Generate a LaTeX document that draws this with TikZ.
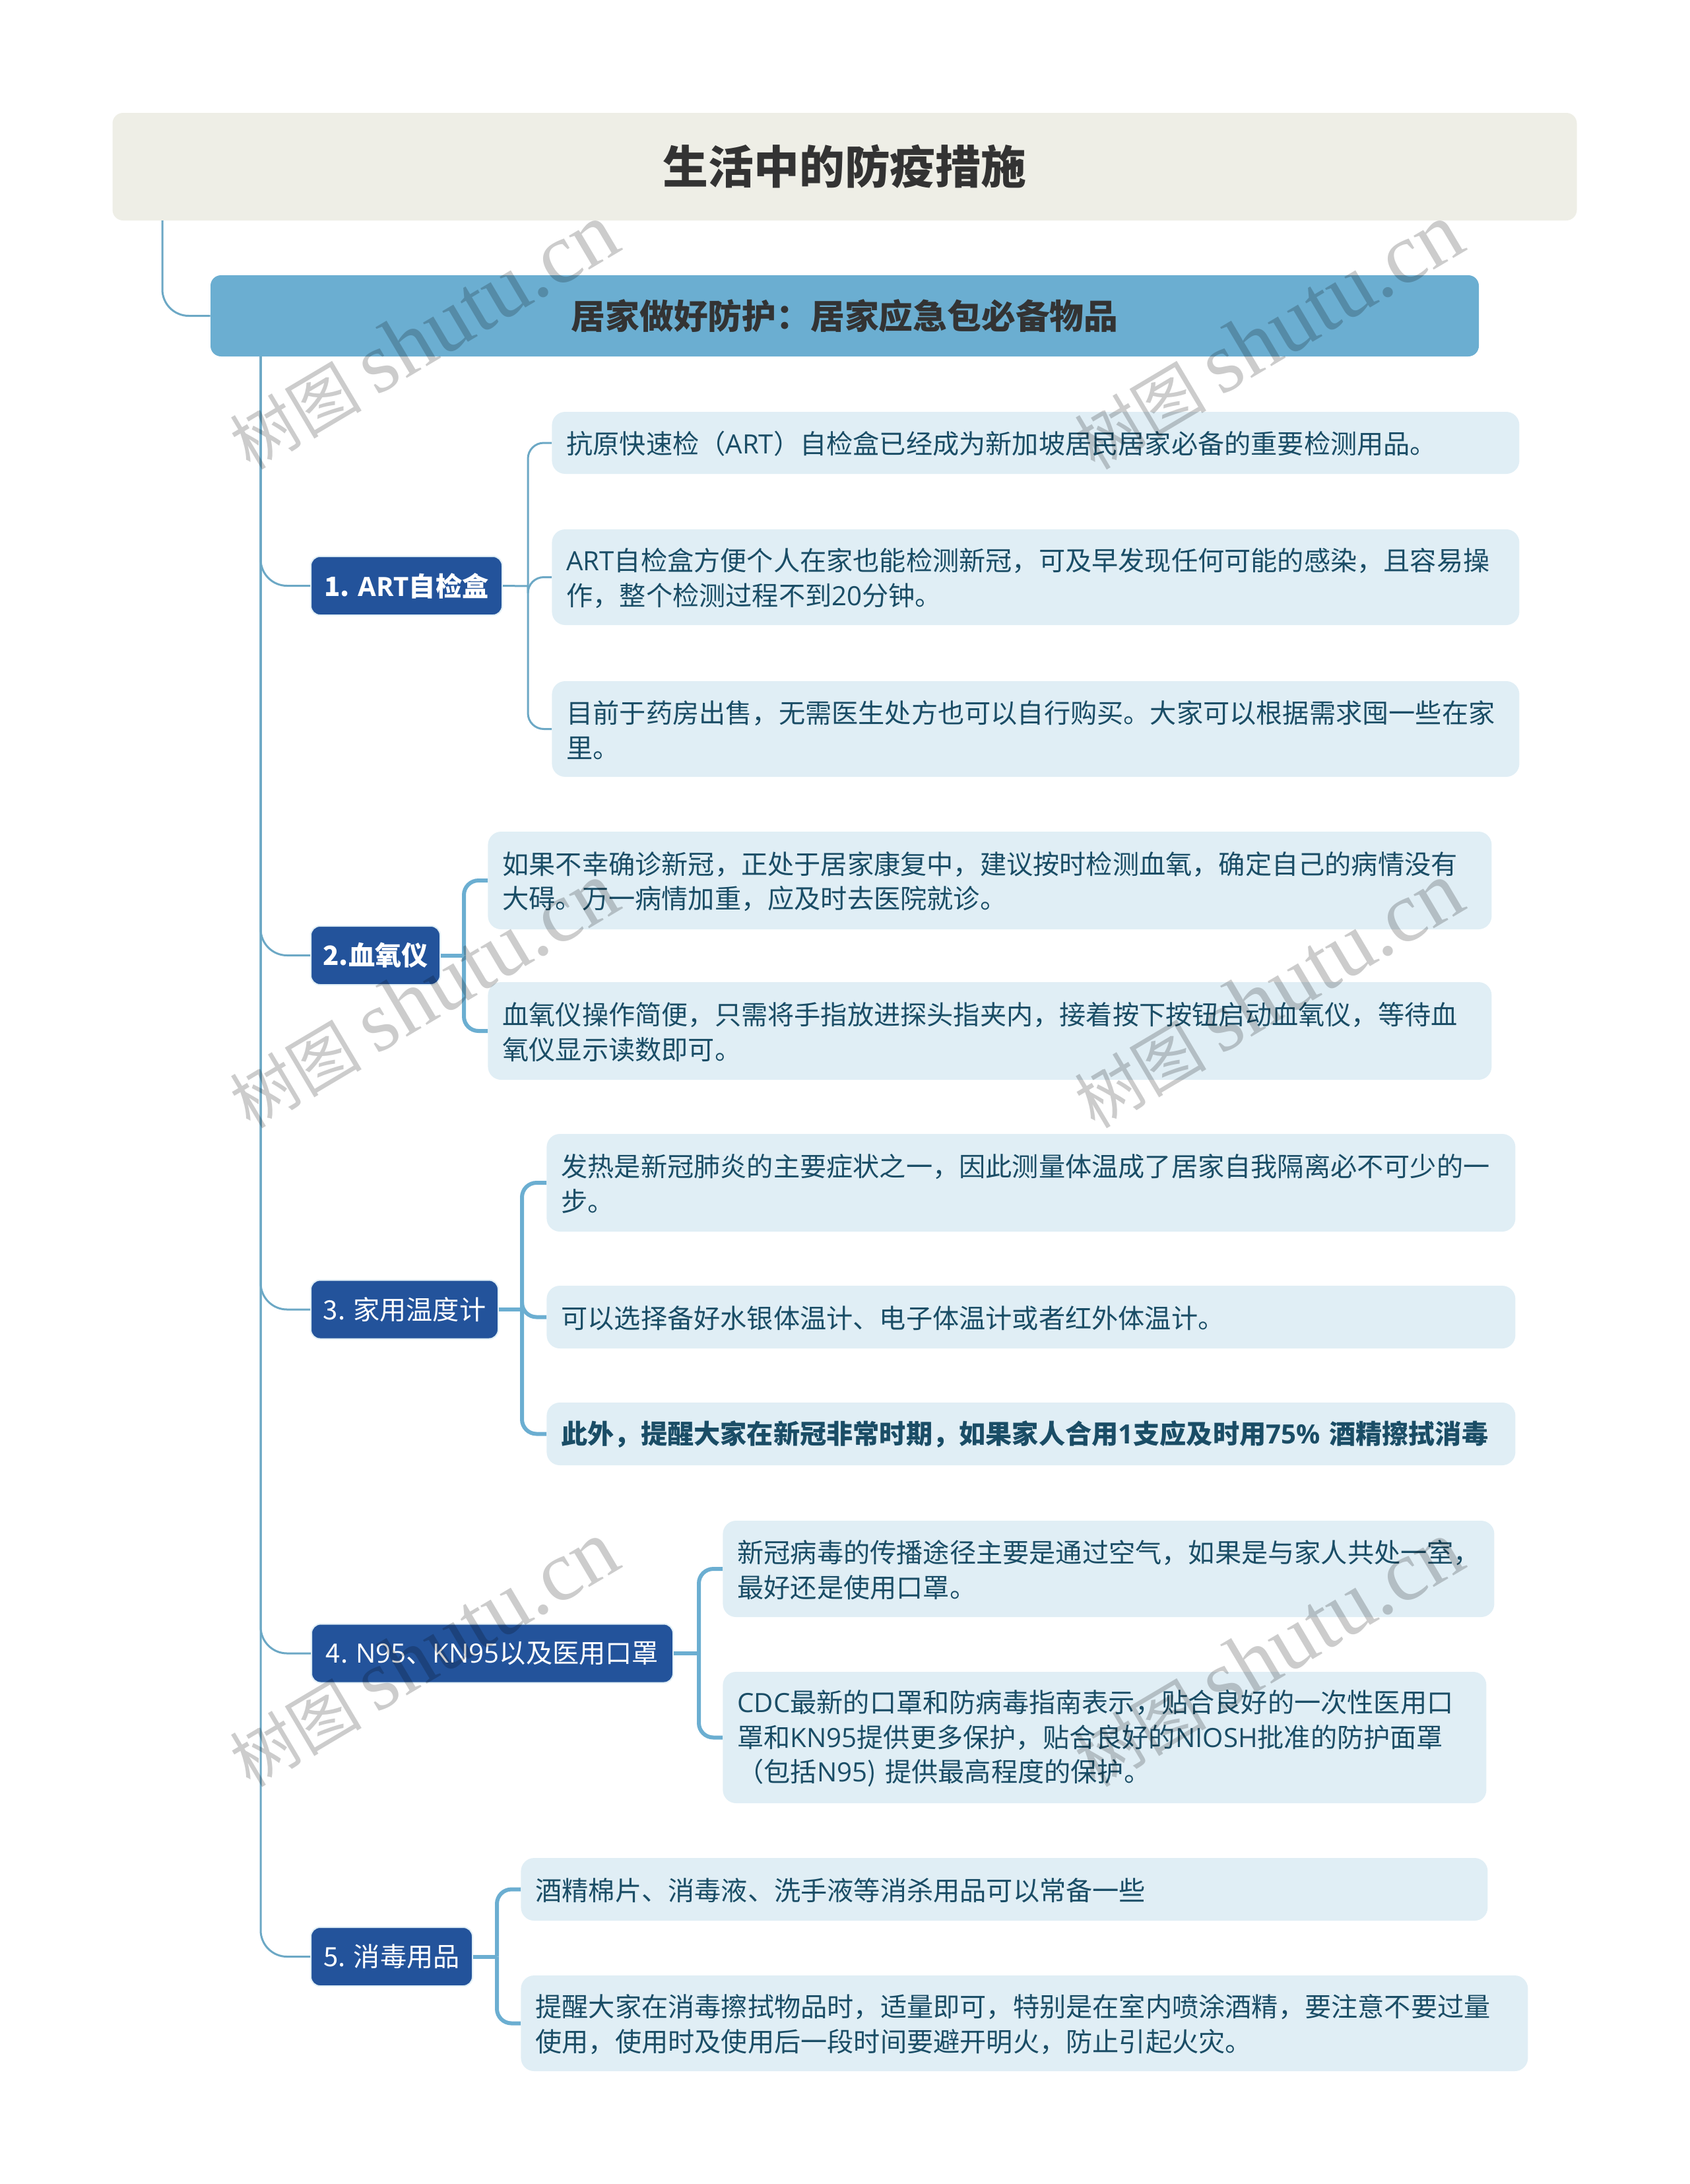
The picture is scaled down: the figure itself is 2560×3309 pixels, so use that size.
\documentclass[tikz,border=0pt]{standalone}
\usepackage{fontspec}
\setmainfont{Noto Sans CJK SC}
\newfontfamily\enfont{Open Sans}
\newfontfamily\wmfont{Liberation Serif}
\usepackage{tikz}
\newcommand{\en}[1]{{\enfont #1}}
\newcommand{\bodysize}{\fontsize{20.1pt}{26.35pt}\selectfont}
\definecolor{rootfill}{HTML}{EEEEE6}
\definecolor{subfill}{HTML}{6BAED1}
\definecolor{branchfill}{HTML}{23539B}
\definecolor{leaffill}{HTML}{E0EEF5}
\definecolor{leaftext}{HTML}{1A4D66}
\definecolor{linkcolor}{HTML}{6CA8C5}
\tikzset{
  root/.style={fill=rootfill,rounded corners=8pt,minimum width=1109.5pt,minimum height=81.5pt,
    text=black!80,font=\fontsize{34.4pt}{40pt}\selectfont\bfseries},
  sub/.style={fill=subfill,rounded corners=8pt,minimum width=961pt,minimum height=61.5pt,
    text=black!80,font=\fontsize{25.9pt}{30pt}\selectfont\bfseries},
  branch/.style={font=\bodysize,fill=branchfill,draw=leaffill,line width=1pt,rounded corners=7pt,
    text=white,minimum height=44.5pt,inner xsep=0pt,inner ysep=0pt},
  leaf/.style={font=\bodysize,fill=leaffill,rounded corners=10pt,text=leaftext,anchor=west,
    align=left,inner xsep=11pt,inner ysep=0pt,execute at begin node={\rule{0pt}{18.5pt}}},
  link/.style={draw=linkcolor,line width=1.5pt,rounded corners=20pt},
  thinlink/.style={draw=linkcolor,line width=1.5pt,rounded corners=12pt},
  thicklink/.style={draw=subfill,line width=3pt,rounded corners=11pt},
}
\begin{document}
\begin{tikzpicture}[x=0.5pt,y=-0.5pt]
  \useasboundingbox (0,0) rectangle (2560,3309);
  % title and main topic
  \node[root] (root) at (1280,252.5) {生活中的防疫措施};
  \node[sub] (sub) at (1280,478.5) {居家做好防护：居家应急包必备物品};
  \coordinate (rootout) at (246,334);
  \coordinate (trunk) at (395,540);
  \draw[link] (rootout) |- (sub.west);
  % branches
  \node[branch,minimum width=145pt,font=\bodysize\bfseries] (art) at (616,887.5) {1. \en{ART}自检盒};
  \node[branch,minimum width=98pt,font=\bodysize\bfseries] (oxi) at (569,1447.5) {2.血氧仪};
  \node[branch,minimum width=142pt] (therm) at (613,1984) {3. 家用温度计};
  \node[branch,minimum width=274pt] (mask) at (746,2505) {4. \en{N95}、\en{KN95}以及医用口罩};
  \node[branch,minimum width=122.5pt] (clean) at (593.5,2964.5) {5. 消毒用品};
  \foreach \b in {art,oxi,therm,mask,clean}
    \draw[link] (trunk) |- (\b.west);
  % leaves of 1
  \node[leaf,text width=711pt,minimum height=47pt] (art1) at (836,671) {抗原快速检（\en{ART}）自检盒已经成为新加坡居民居家必备的重要检测用品。};
  \node[leaf,text width=711pt,minimum height=72.5pt] (art2) at (836,874.5) {\en{ART}自检盒方便个人在家也能检测新冠，可及早发现任何可能的感染，且容易操\\作，整个检测过程不到\en{20}分钟。};
  \node[leaf,text width=711pt,minimum height=72.5pt] (art3) at (836,1104.5) {目前于药房出售，无需医生处方也可以自行购买。大家可以根据需求囤一些在家\\里。};
  \coordinate (artj) at (800,888);
  \draw[thinlink] (art.east) -- (artj);
  \draw[thinlink] (artj) |- (art1.west);
  \draw[thinlink] (artj) |- (art2.west);
  \draw[thinlink] (artj) |- (art3.west);
  % leaves of 2
  \node[leaf,text width=738.5pt,minimum height=74pt] (oxi1) at (739,1334) {如果不幸确诊新冠，正处于居家康复中，建议按时检测血氧，确定自己的病情没有\\大碍。万一病情加重，应及时去医院就诊。};
  \node[leaf,text width=738.5pt,minimum height=74pt] (oxi2) at (739,1562) {血氧仪操作简便，只需将手指放进探头指夹内，接着按下按钮启动血氧仪，等待血\\氧仪显示读数即可。};
  \coordinate (oxij) at (703,1447.5);
  \draw[thicklink] (oxi.east) -- (oxij);
  \draw[thicklink] (oxij) |- (oxi1.west);
  \draw[thicklink] (oxij) |- (oxi2.west);
  % leaves of 3
  \node[leaf,text width=712pt,minimum height=74pt] (therm1) at (828,1792) {发热是新冠肺炎的主要症状之一，因此测量体温成了居家自我隔离必不可少的一\\步。};
  \node[leaf,text width=712pt,minimum height=47.5pt] (therm2) at (828,1995.5) {可以选择备好水银体温计、电子体温计或者红外体温计。};
  \node[leaf,text width=712pt,minimum height=47.5pt,font=\bodysize\bfseries] (therm3) at (828,2172.5) {此外，提醒大家在新冠非常时期，如果家人合用\en{1}支应及时用\en{75\%} 酒精擦拭消毒};
  \coordinate (thermj) at (791,1984);
  \draw[thicklink] (therm.east) -- (thermj);
  \draw[thicklink] (thermj) |- (therm1.west);
  \draw[thicklink] (thermj) |- (therm2.west);
  \draw[thicklink] (thermj) |- (therm3.west);
  % leaves of 4
  \node[leaf,text width=562.5pt,minimum height=73pt] (mask1) at (1095,2377) {新冠病毒的传播途径主要是通过空气，如果是与家人共处一室，\\最好还是使用口罩。};
  \node[leaf,text width=556.5pt,minimum height=99.5pt] (mask2) at (1095,2632.5) {\en{CDC}最新的口罩和防病毒指南表示，贴合良好的一次性医用口\\罩和\en{KN95}提供更多保护，贴合良好的\en{NIOSH}批准的防护面罩\\（包括\en{N95}) 提供最高程度的保护。};
  \coordinate (maskj) at (1059,2505);
  \draw[thicklink] (mask.east) -- (maskj);
  \draw[thicklink] (maskj) |- (mask1.west);
  \draw[thicklink] (maskj) |- (mask2.west);
  % leaves of 5
  \node[leaf,text width=710.5pt,minimum height=47.5pt] (clean1) at (789,2862.5) {酒精棉片、消毒液、洗手液等消杀用品可以常备一些};
  \node[leaf,text width=741pt,minimum height=72.5pt] (clean2) at (789,3065.5) {提醒大家在消毒擦拭物品时，适量即可，特别是在室内喷涂酒精，要注意不要过量\\使用，使用时及使用后一段时间要避开明火，防止引起火灾。};
  \coordinate (cleanj) at (753,2964.5);
  \draw[thicklink] (clean.east) -- (cleanj);
  \draw[thicklink] (cleanj) |- (clean1.west);
  \draw[thicklink] (cleanj) |- (clean2.west);
  % watermarks
  \foreach \wx in {642,1922}
    \foreach \wy in {510,1508,2506}
      \node[rotate=30.7,text=black,text opacity=0.2,font=\fontsize{50pt}{52pt}\selectfont] (mark\wx\wy) at (\wx,\wy) {树图 {\wmfont\fontsize{65pt}{66pt}\selectfont shutu.cn}};
\end{tikzpicture}
\end{document}
